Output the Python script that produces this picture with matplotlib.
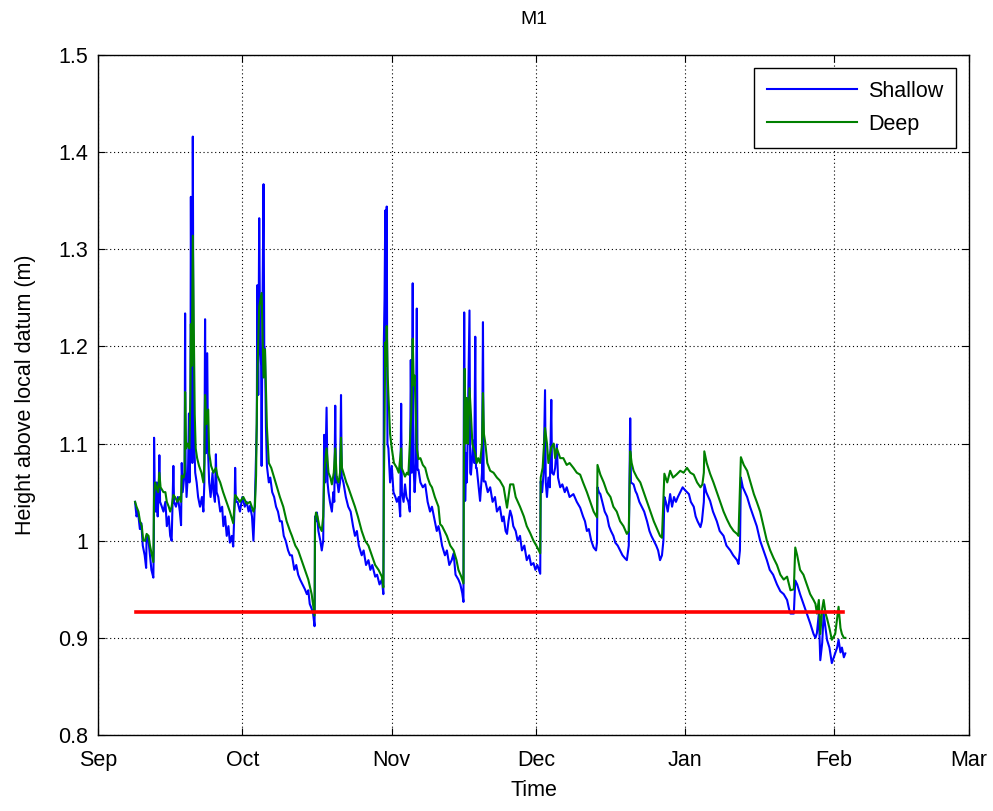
import numpy as np
import pandas as pd
import matplotlib
matplotlib.use("Agg")
import matplotlib.pyplot as plt
import matplotlib.dates as mdates

plt.rcParams['font.family'] = ['Liberation Sans', 'DejaVu Sans']

# 记录起点：2014-09-01，时间以天为单位
START = pd.Timestamp("2014-09-01")

# 浅层传感器 (天, 高度 m)
shallow_day = [
    7.7, 8.0, 8.3, 8.7, 9.0, 9.3, 9.7, 10.0, 10.1, 10.5, 10.8, 11.1, 11.5, 11.6, 11.65, 11.8,
    12.0, 12.2, 12.4, 12.6, 12.75, 12.9, 13.2, 13.6, 14.0, 14.3, 14.7, 15.0, 15.3, 15.5, 15.66, 15.8,
    16.2, 16.6, 17.0, 17.26, 17.4, 17.6, 17.8, 18.0, 18.1, 18.2, 18.4, 18.7, 18.9, 19.0, 19.2, 19.3,
    19.45, 19.6, 19.7, 19.85, 20.0, 20.2, 20.5, 20.8, 21.2, 21.6, 21.9, 22.1, 22.25, 22.4, 22.7, 22.85,
    23.1, 23.4, 23.8, 24.0, 24.3, 24.5, 24.65, 25.0, 25.4, 25.8, 26.05, 26.4, 26.75, 27.1, 27.4, 27.8,
    28.1, 28.4, 28.5, 28.65, 29.0, 29.5, 30.0, 30.5, 30.9, 31.3, 31.6, 32.0, 32.3, 32.6, 32.85, 33.0,
    33.1, 33.3, 33.5, 33.7, 33.9, 34.0, 34.2, 34.4, 34.55, 34.7, 34.9, 35.1, 35.5, 35.8, 36.2, 36.6,
    37.0, 37.4, 37.8, 38.2, 38.6, 39.0, 39.5, 39.9,
    40.3, 40.8, 41.2, 41.6, 42.0, 42.5, 43.0, 43.4, 43.7, 44.0, 44.4, 44.7, 45.0, 45.05, 45.1, 45.3,
    45.5, 45.8, 46.2, 46.5, 46.8, 47.0, 47.2, 47.5, 47.7, 47.9, 48.2, 48.6, 48.9, 49.1, 49.3, 49.45,
    49.6, 50.0, 50.3, 50.5, 50.65, 51.0, 51.5, 52.0, 52.5, 53.0, 53.4, 53.8, 54.2, 54.8, 55.2, 55.7,
    56.2, 56.6, 57.0, 57.6, 58.0, 58.5, 59.0, 59.3, 59.35, 59.4, 59.55, 59.7, 59.85, 60.0, 60.15, 60.35,
    60.7, 61.05, 61.4, 61.8, 62.1, 62.5, 62.8, 63.0, 63.15, 63.5, 63.8, 64.1, 64.5, 64.8, 65.0, 65.2,
    65.4, 65.55, 65.8, 66.0, 66.25, 66.4, 66.6, 67.0, 67.5, 68.0, 68.5, 69.0, 69.4, 70.0, 70.4, 70.75,
    71.1, 71.5, 72.1,
    72.5, 73.0, 73.5, 73.9, 74.3, 74.9, 75.3, 75.7, 75.95, 76.0, 76.1, 76.2, 76.3, 76.5, 76.65, 76.8,
    77.2, 77.35, 77.5, 77.8, 78.0, 78.2, 78.4, 78.55, 78.7, 79.0, 79.4, 79.8, 80.0, 80.15, 80.5, 81.0,
    81.5, 82.0, 82.5, 82.9, 83.5, 84.0, 84.3, 84.7, 85.0, 85.3, 85.65, 86.0, 86.3, 86.8, 87.2, 87.7,
    88.1, 88.6, 89.1, 89.6, 90.0, 90.5, 90.9, 91.3, 91.9, 92.0, 92.3, 92.6, 92.9, 93.05, 93.3, 93.6,
    93.9, 94.2, 94.35, 94.7, 95.0, 95.35, 95.6, 96.05, 96.5, 97.0, 97.4, 98.0, 98.8, 99.5, 100.2, 100.8,
    101.2, 101.6, 102.0, 102.5, 103.0, 103.5, 103.7, 103.8, 104.1, 104.4, 104.8, 105.3, 105.8, 106.2, 106.6, 107.1,
    107.5, 108.0, 108.5, 109.0, 109.5, 109.9, 110.3, 110.6, 110.75, 111.3, 111.7, 112.0,
    112.5, 113.0, 113.5, 114.1, 114.6, 115.0, 115.5, 116.0, 116.4, 116.8, 117.2, 117.5, 117.7, 118.0, 118.4, 118.9,
    119.3, 119.7, 120.1, 120.5, 121.0, 121.5, 122.0, 122.4, 122.8, 123.2, 123.8, 124.2, 124.6, 125.2, 125.5, 125.9,
    126.0, 126.4, 127.2, 127.8, 128.6, 129.2, 130.0, 130.6, 131.4, 132.0, 132.8, 133.1, 133.4, 133.6, 134.0, 134.9,
    135.5, 136.2, 136.9, 137.6, 138.3, 139.0, 139.6, 140.3, 141.1, 141.8, 142.5, 143.2, 143.6, 143.9, 144.6, 144.9,
    145.3, 145.9, 146.6, 147.3, 148.0, 148.7, 149.1, 149.4, 149.8, 150.1, 150.5, 150.8, 151.2, 151.5, 152.0, 152.5,
    153.2, 153.6, 153.9, 154.3, 154.6, 155.0, 155.3,
]
shallow_h = [
    1.040, 1.025, 1.030, 1.012, 1.018, 0.995, 0.985, 0.972, 1.005, 1.000, 0.985, 0.970, 0.962, 1.000, 1.106, 1.045,
    1.030, 1.060, 1.025, 1.050, 1.088, 1.040, 1.036, 1.030, 1.040, 1.015, 1.025, 1.005, 1.000, 1.040, 1.077, 1.040,
    1.035, 1.045, 1.030, 1.016, 1.080, 1.050, 1.060, 1.070, 1.234, 1.080, 1.045, 1.070, 1.131, 1.060, 1.100, 1.354,
    1.150, 1.080, 1.416, 1.150, 1.100, 1.070, 1.060, 1.045, 1.035, 1.045, 1.030, 1.060, 1.228, 1.090, 1.193, 1.095,
    1.060, 1.045, 1.070, 1.050, 1.040, 1.089, 1.050, 1.045, 1.030, 1.035, 1.015, 1.025, 1.005, 1.015, 0.998, 1.005,
    0.994, 1.040, 1.075, 1.040, 1.040, 1.030, 1.045, 1.035, 1.040, 1.030, 1.036, 1.025, 1.000, 1.040, 1.088, 1.120,
    1.263, 1.150, 1.332, 1.200, 1.180, 1.077, 1.250, 1.367, 1.200, 1.197, 1.117, 1.077, 1.060, 1.065, 1.050, 1.045,
    1.035, 1.030, 1.020, 1.020, 1.005, 1.000, 0.990, 0.985,
    0.985, 0.970, 0.975, 0.965, 0.960, 0.955, 0.950, 0.945, 0.949, 0.935, 0.930, 0.925, 0.912, 0.950, 1.025, 1.020,
    1.029, 1.010, 1.000, 0.990, 1.000, 1.109, 1.060, 1.137, 1.060, 1.050, 1.040, 1.030, 1.050, 1.040, 1.139, 1.060,
    1.066, 1.050, 1.060, 1.150, 1.066, 1.060, 1.045, 1.035, 1.030, 1.015, 1.005, 1.010, 0.995, 0.985, 0.990, 0.975,
    0.980, 0.970, 0.975, 0.963, 0.965, 0.955, 0.960, 0.945, 1.000, 1.204, 1.250, 1.340, 1.200, 1.344, 1.100, 1.095,
    1.060, 1.077, 1.050, 1.045, 1.040, 1.045, 1.025, 1.141, 1.050, 1.040, 1.058, 1.045, 1.040, 1.030, 1.186, 1.070,
    1.265, 1.080, 1.050, 1.070, 1.239, 1.073, 1.073, 1.060, 1.055, 1.058, 1.040, 1.030, 1.035, 1.020, 1.010, 1.015,
    1.007, 0.995, 0.985,
    0.990, 0.975, 0.980, 0.987, 0.965, 0.960, 0.955, 0.946, 0.937, 1.100, 1.235, 1.116, 1.041, 1.090, 1.060, 1.100,
    1.237, 1.070, 1.068, 1.090, 1.103, 1.080, 1.210, 1.075, 1.075, 1.060, 1.041, 1.070, 1.225, 1.061, 1.061, 1.050,
    1.055, 1.040, 1.045, 1.030, 1.035, 1.020, 1.025, 1.010, 1.007, 1.020, 1.031, 1.025, 1.015, 1.010, 1.000, 1.005,
    0.990, 0.995, 0.980, 0.985, 0.975, 0.977, 0.970, 0.975, 0.966, 1.061, 1.050, 1.070, 1.155, 1.060, 1.045, 1.065,
    1.055, 1.145, 1.070, 1.068, 1.075, 1.099, 1.065, 1.055, 1.058, 1.050, 1.055, 1.045, 1.048, 1.040, 1.034, 1.025,
    1.020, 1.010, 1.012, 1.000, 0.993, 0.990, 0.998, 1.055, 1.050, 1.048, 1.040, 1.030, 1.025, 1.015, 1.010, 1.005,
    0.998, 0.995, 0.990, 0.985, 0.982, 0.980, 0.995, 1.126, 1.060, 1.058, 1.051, 1.048,
    1.040, 1.035, 1.030, 1.020, 1.010, 1.005, 1.000, 0.995, 0.990, 0.980, 0.985, 1.000, 1.045, 1.040, 1.030, 1.048,
    1.035, 1.045, 1.040, 1.045, 1.050, 1.055, 1.052, 1.050, 1.048, 1.040, 1.035, 1.025, 1.020, 1.014, 1.020, 1.040,
    1.058, 1.050, 1.041, 1.030, 1.020, 1.010, 1.005, 0.995, 0.990, 0.985, 0.980, 0.976, 0.990, 1.065, 1.055, 1.045,
    1.035, 1.025, 1.015, 1.000, 0.990, 0.980, 0.970, 0.965, 0.955, 0.948, 0.945, 0.939, 0.930, 0.925, 0.925, 0.959,
    0.955, 0.945, 0.935, 0.925, 0.915, 0.904, 0.900, 0.905, 0.925, 0.877, 0.895, 0.925, 0.910, 0.898, 0.890, 0.874,
    0.884, 0.890, 0.898, 0.885, 0.890, 0.880, 0.884,
]

# 深层传感器 (天, 高度 m)
deep_day = [
    7.7, 8.0, 8.4, 8.73, 9.1, 9.4, 9.77, 10.1, 10.5, 10.8, 11.2, 11.5, 11.64, 11.85, 12.2, 12.5,
    12.75, 13.0, 13.6, 14.0, 14.3, 14.7, 15.0, 15.3, 15.66, 16.0, 16.5, 17.0, 17.26, 17.4, 17.8, 18.0,
    18.1, 18.3, 18.6, 19.0, 19.2, 19.3, 19.5, 19.7, 19.9, 20.1, 20.3, 20.6, 21.0, 21.5, 21.9, 22.1,
    22.25, 22.5, 22.9, 23.1, 23.5, 24.0, 24.5, 24.8, 25.4, 26.0, 26.7, 27.4, 28.1, 28.5, 28.8, 29.5,
    30.2, 30.9, 31.6, 32.3, 32.6, 32.85, 33.1, 33.5, 34.0, 34.4, 34.7, 35.1, 35.5, 36.0, 36.6, 37.2,
    37.8, 38.5, 39.2, 39.9,
    40.3, 41.0, 41.6, 42.3, 43.0, 43.7, 44.4, 45.0, 45.1, 45.3, 45.6, 46.0, 46.5, 46.8, 47.05, 47.5,
    47.9, 48.3, 48.6, 49.0, 49.3, 49.6, 50.0, 50.3, 50.5, 50.7, 51.0, 51.6, 52.0, 52.7, 53.4, 54.0,
    54.8, 55.5, 56.2, 56.9, 57.6, 58.3, 59.0, 59.3, 59.4, 59.55, 59.7, 59.85, 60.0, 60.2, 60.35, 60.7,
    61.05, 61.5, 62.1, 62.5, 63.0, 63.1, 63.5, 63.8, 64.2, 64.5, 65.1, 65.4, 65.6, 65.8, 66.25, 66.6,
    67.0, 67.5, 68.0, 68.5, 69.0, 69.4, 70.0, 70.75, 71.1,
    71.5, 72.0, 72.5, 73.2, 73.9, 74.5, 74.9, 75.5, 75.95, 76.05, 76.2, 76.4, 76.65, 76.9, 77.2, 77.5,
    77.8, 78.0, 78.4, 78.7, 79.0, 79.4, 79.8, 80.0, 80.2, 80.5, 80.9, 81.5, 82.2, 82.9, 83.5, 84.3,
    85.0, 85.3, 85.65, 86.3, 86.8, 87.7, 88.5, 89.1, 89.8, 90.5, 91.2, 91.9, 92.0, 92.4, 92.9, 93.3,
    93.6, 94.2, 94.7, 95.0, 95.35, 96.05, 96.7, 97.4, 98.0, 98.8, 99.5, 100.2, 100.8, 101.6, 102.3, 103.0,
    103.7, 103.8, 104.4, 105.1, 105.8, 106.5, 107.1, 107.8, 108.5, 109.2, 109.9, 110.3, 110.6, 110.9, 111.3,
    112.0, 112.7, 113.4, 114.1, 114.8, 115.5, 116.2, 116.8, 117.2, 117.7, 118.3, 118.9, 119.5, 120.2, 121.0, 121.7,
    122.4, 123.1, 123.8, 124.5, 125.2, 125.6, 125.9, 126.0, 126.5, 127.2, 127.9, 128.6, 129.3, 130.0, 130.7, 131.4,
    132.1, 132.8, 133.1, 133.6, 134.2, 134.9, 135.6, 136.3, 136.9, 137.6, 138.3, 139.0, 139.7, 140.4, 141.1, 141.8,
    142.5, 143.2, 143.6, 143.9, 144.6, 144.9, 145.3, 145.9, 146.6, 147.3, 148.0, 148.7, 149.1, 149.4, 149.8, 150.1,
    150.5, 150.8, 151.2, 151.5, 152.0, 152.5, 153.2, 153.6, 153.9, 154.3, 154.6, 155.0, 155.3,
]
deep_h = [
    1.040, 1.035, 1.030, 1.020, 1.015, 1.000, 1.000, 1.007, 1.005, 0.995, 0.985, 0.978, 1.044, 1.060, 1.054, 1.050,
    1.070, 1.055, 1.050, 1.050, 1.040, 1.035, 1.030, 1.035, 1.047, 1.045, 1.040, 1.045, 1.040, 1.067, 1.065, 1.070,
    1.153, 1.095, 1.100, 1.095, 1.150, 1.223, 1.180, 1.314, 1.223, 1.130, 1.095, 1.085, 1.077, 1.070, 1.060, 1.080,
    1.150, 1.120, 1.135, 1.090, 1.077, 1.070, 1.075, 1.067, 1.060, 1.050, 1.040, 1.030, 1.018, 1.047, 1.045, 1.040,
    1.045, 1.038, 1.040, 1.030, 1.035, 1.067, 1.168, 1.241, 1.255, 1.168, 1.197, 1.117, 1.080, 1.075, 1.065, 1.055,
    1.045, 1.035, 1.020, 1.010,
    1.005, 0.995, 0.990, 0.980, 0.970, 0.960, 0.945, 0.923, 1.020, 1.029, 1.025, 1.015, 1.010, 1.025, 1.073, 1.095,
    1.070, 1.065, 1.058, 1.070, 1.095, 1.065, 1.060, 1.070, 1.106, 1.075, 1.070, 1.060, 1.055, 1.045, 1.035, 1.025,
    1.010, 1.000, 0.995, 0.985, 0.975, 0.970, 0.963, 0.952, 1.054, 1.120, 1.204, 1.180, 1.221, 1.170, 1.150, 1.110,
    1.095, 1.080, 1.075, 1.070, 1.095, 1.075, 1.070, 1.066, 1.070, 1.068, 1.131, 1.208, 1.160, 1.170, 1.095, 1.084,
    1.085, 1.078, 1.075, 1.065, 1.058, 1.055, 1.045, 1.035, 1.017,
    1.015, 1.010, 1.005, 0.995, 0.990, 0.980, 0.970, 0.963, 0.956, 1.096, 1.177, 1.100, 1.147, 1.100, 1.157, 1.130,
    1.100, 1.096, 1.090, 1.080, 1.085, 1.080, 1.100, 1.152, 1.110, 1.100, 1.080, 1.072, 1.070, 1.065, 1.062, 1.055,
    1.034, 1.045, 1.058, 1.058, 1.045, 1.035, 1.025, 1.015, 1.008, 1.000, 0.994, 0.987, 1.065, 1.075, 1.116, 1.100,
    1.080, 1.096, 1.100, 1.085, 1.095, 1.085, 1.085, 1.078, 1.080, 1.075, 1.070, 1.068, 1.060, 1.050, 1.040, 1.030,
    1.024, 1.078, 1.068, 1.060, 1.050, 1.045, 1.035, 1.030, 1.020, 1.015, 1.007, 1.010, 1.092, 1.080, 1.072,
    1.065, 1.060, 1.050, 1.040, 1.030, 1.020, 1.012, 1.005, 1.003, 1.069, 1.060, 1.072, 1.065, 1.068, 1.072, 1.070,
    1.075, 1.070, 1.068, 1.060, 1.055, 1.058, 1.070, 1.092, 1.080, 1.069, 1.060, 1.050, 1.040, 1.030, 1.022, 1.015,
    1.010, 1.007, 1.005, 1.086, 1.078, 1.072, 1.060, 1.048, 1.040, 1.030, 1.015, 1.000, 0.990, 0.982, 0.975, 0.965,
    0.960, 0.963, 0.955, 0.949, 0.950, 0.993, 0.985, 0.970, 0.965, 0.955, 0.945, 0.939, 0.935, 0.925, 0.939, 0.904,
    0.930, 0.939, 0.925, 0.920, 0.910, 0.898, 0.904, 0.920, 0.932, 0.910, 0.904, 0.900, 0.900,
]

# 红色参考水位
ref_level = 0.927
ref_days = [7.9, 154.9]


def to_dates(days):
    return START + pd.to_timedelta(np.array(days), unit="D")


fig = plt.figure(figsize=(9.93, 8.11), dpi=100)
ax = fig.add_axes([0.0987, 0.0937, 0.8771, 0.8385])

ax.plot(to_dates(shallow_day), shallow_h, color=(0, 0, 1), lw=1.5, label='Shallow')
ax.plot(to_dates(deep_day), deep_h, color=(0, 0.5, 0), lw=1.5, label='Deep')
ax.plot(to_dates(ref_days), [ref_level, ref_level], color=(1, 0, 0), lw=2.6)

ax.set_xlim(pd.Timestamp("2014-09-01"), pd.Timestamp("2015-03-01"))
ax.set_ylim(0.8, 1.5)
ax.set_yticks([0.8, 0.9, 1.0, 1.1, 1.2, 1.3, 1.4, 1.5])
ax.set_yticklabels(['0.8', '0.9', '1', '1.1', '1.2', '1.3', '1.4', '1.5'])
ax.xaxis.set_major_locator(mdates.MonthLocator())
ax.xaxis.set_major_formatter(mdates.DateFormatter('%b'))

ax.grid(True, color='black', linestyle=(0, (1, 2.5)), linewidth=0.8)
ax.tick_params(direction='in', top=True, right=True, labelsize=15.5, length=5, width=0.8)
ax.tick_params(axis='x', pad=11)
ax.tick_params(axis='y', pad=7)
for s in ax.spines.values():
    s.set_linewidth(1.0)

ax.set_title('M1', fontsize=14, pad=22)
ax.set_xlabel('Time', fontsize=15.5, labelpad=6)
ax.set_ylabel('Height above local datum (m)', fontsize=15.5, labelpad=16)

leg = ax.legend(loc='upper right', fontsize=15.5, handlelength=4.2, handletextpad=0.5,
                fancybox=False, framealpha=1, edgecolor='black', borderaxespad=0.6,
                borderpad=0.6, labelspacing=0.55)
leg.get_frame().set_linewidth(1.0)

fig.savefig('out.png', dpi=100)
